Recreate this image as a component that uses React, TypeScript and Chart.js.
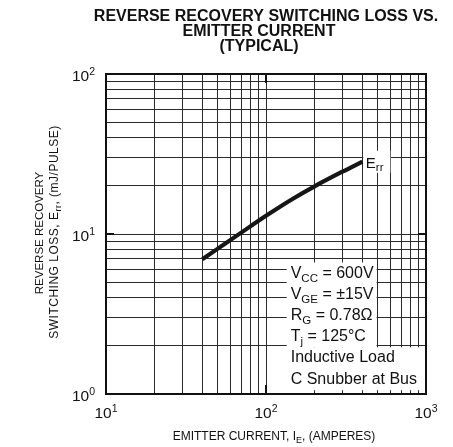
import { useEffect, useRef } from "react";
import { Chart, registerables } from "chart.js";

Chart.register(...registerables);

const FONT = '"Liberation Sans", Arial, Helvetica, sans-serif';

// ---- data ----
const TITLE_LINES = ["REVERSE RECOVERY SWITCHING LOSS VS.", "EMITTER CURRENT", "(TYPICAL)"];
const CURRENT_A = [40, 50, 70, 100, 150, 200, 300, 400];
const ERR_MJ = [6.95, 8.1, 10.2, 13.0, 16.8, 19.8, 24.5, 28.3];
const X_DECADES = [10, 100, 1000];
const Y_DECADES = [1, 10, 100];
const X_EXPONENTS = ["1", "2", "3"];
const Y_EXPONENTS = ["0", "1", "2"];
const MULTIPLIERS = [1, 2, 3, 4, 5, 6, 7, 8, 9];
const SERIES_NAME = [{ t: "E" }, { t: "rr", s: "sub" }];
const Y_TITLE_1 = [{ t: "REVERSE RECOVERY" }];
const Y_TITLE_2 = [{ t: "SWITCHING LOSS, E" }, { t: "rr", s: "sub" }, { t: ", (mJ/PULSE)" }];
const X_TITLE = [{ t: "EMITTER CURRENT, I" }, { t: "E", s: "sub" }, { t: ", (AMPERES)" }];
const NOTE_GROUP_A = [
  [{ t: "V" }, { t: "CC", s: "sub" }, { t: " = 600V" }],
  [{ t: "V" }, { t: "GE", s: "sub" }, { t: " = ±15V" }],
  [{ t: "R" }, { t: "G", s: "sub" }, { t: " = 0.78Ω" }],
  [{ t: "T" }, { t: "j", s: "sub" }, { t: " = 125°C" }],
];
const NOTE_GROUP_B = [[{ t: "Inductive Load" }], [{ t: "C Snubber at Bus" }]];

type Part = { t: string; s?: string };

function gridValues(decades: number[]) {
  const out: number[] = [];
  for (let i = 0; i < decades.length - 1; i++) {
    for (const m of MULTIPLIERS) out.push(decades[i] * m);
  }
  out.push(decades[decades.length - 1]);
  return out;
}

function setFont(ctx: CanvasRenderingContext2D, size: number, bold = false) {
  ctx.font = `${bold ? "bold " : ""}${size}px ${FONT}`;
}

function partsWidth(ctx: CanvasRenderingContext2D, parts: Part[], size: number, small: number) {
  let w = 0;
  for (const p of parts) {
    setFont(ctx, p.s ? small : size);
    w += ctx.measureText(p.t).width;
  }
  return w;
}

function drawParts(
  ctx: CanvasRenderingContext2D,
  parts: Part[],
  x: number,
  y: number,
  size: number,
  small: number,
  subDy: number,
  supDy: number,
  align: "left" | "center" | "right" = "left"
) {
  const w = partsWidth(ctx, parts, size, small);
  let cx = align === "left" ? x : align === "center" ? x - w / 2 : x - w;
  ctx.textAlign = "left";
  for (const p of parts) {
    setFont(ctx, p.s ? small : size);
    const dy = p.s === "sub" ? subDy : p.s === "sup" ? -supDy : 0;
    ctx.fillText(p.t, cx, y + dy);
    cx += ctx.measureText(p.t).width;
  }
  return w;
}

const NOTE_SIZE = 16;
const NOTE_SMALL = 11.5;
const NOTE_STEP = 21.2;

function noteGeometry(chart: any) {
  const a = chart.chartArea;
  const left = a.left + 184.7;
  const base0 = a.top + 203.5;
  return { left, base0 };
}

const decorPlugin = {
  id: "decor",
  beforeDatasetsDraw(chart: any) {
    const { ctx } = chart;
    const xs = chart.scales.x;
    const ys = chart.scales.y;
    ctx.save();
    ctx.fillStyle = "#fff";
    const { left, base0 } = noteGeometry(chart);
    const wA = Math.max(...NOTE_GROUP_A.map((r) => partsWidth(ctx, r, NOTE_SIZE, NOTE_SMALL)));
    const wB = Math.max(...NOTE_GROUP_B.map((r) => partsWidth(ctx, r, NOTE_SIZE, NOTE_SMALL)));
    const topA = base0 - 15;
    ctx.fillRect(left - 4, topA, wA + 7, NOTE_STEP * NOTE_GROUP_A.length);
    const topB = topA + NOTE_STEP * NOTE_GROUP_A.length;
    ctx.fillRect(left - 4, topB, wB + 8, NOTE_STEP * NOTE_GROUP_B.length + 0.5);
    const n = CURRENT_A.length - 1;
    const px = xs.getPixelForValue(CURRENT_A[n]);
    const py = ys.getPixelForValue(ERR_MJ[n]);
    ctx.fillRect(px + 1, py - 11, 27, 22);
    ctx.restore();
  },
  afterDatasetsDraw(chart: any) {
    const { ctx, chartArea: a } = chart;
    const xs = chart.scales.x;
    const ys = chart.scales.y;
    ctx.save();
    ctx.fillStyle = "#111";
    ctx.textBaseline = "alphabetic";

    const { left, base0 } = noteGeometry(chart);
    [...NOTE_GROUP_A, ...NOTE_GROUP_B].forEach((row, i) => {
      drawParts(ctx, row, left, base0 + i * NOTE_STEP, NOTE_SIZE, NOTE_SMALL, 4, 0);
    });

    const n = CURRENT_A.length - 1;
    const px = xs.getPixelForValue(CURRENT_A[n]);
    const py = ys.getPixelForValue(ERR_MJ[n]);
    drawParts(ctx, SERIES_NAME, px + 3.5, py + 6, 15, 11.5, 3.5, 0);

    ctx.strokeStyle = "#111";
    ctx.lineWidth = 2;
    ctx.strokeRect(a.left, a.top, a.right - a.left, a.bottom - a.top);

    ctx.lineWidth = 2;
    ctx.beginPath();
    X_DECADES.slice(1, -1).forEach((v) => {
      const x = Math.round(xs.getPixelForValue(v));
      ctx.moveTo(x, a.top);
      ctx.lineTo(x, a.top + 9);
      ctx.moveTo(x, a.bottom);
      ctx.lineTo(x, a.bottom - 9);
    });
    Y_DECADES.slice(1, -1).forEach((v) => {
      const y = Math.round(ys.getPixelForValue(v));
      ctx.moveTo(a.left, y);
      ctx.lineTo(a.left + 8, y);
      ctx.moveTo(a.right, y);
      ctx.lineTo(a.right - 8, y);
    });
    ctx.stroke();

    X_DECADES.forEach((v, i) => {
      const x = xs.getPixelForValue(v);
      drawParts(ctx, [{ t: "10" }, { t: X_EXPONENTS[i], s: "sup" }], x, a.bottom + 24, 15.5, 10.5, 0, 6, "center");
    });
    Y_DECADES.forEach((v, i) => {
      const y = ys.getPixelForValue(v);
      drawParts(ctx, [{ t: "10" }, { t: Y_EXPONENTS[i], s: "sup" }], a.left - 11, y + 7, 15.5, 10.5, 0, 6, "right");
    });

    drawParts(ctx, X_TITLE, (a.left + a.right) / 2 + 8, a.bottom + 46, 12, 9, 3, 0, "center");

    const cy = (a.top + a.bottom) / 2 - 1;
    ctx.save();
    ctx.translate(a.left - 63, cy);
    ctx.rotate(-Math.PI / 2);
    drawParts(ctx, Y_TITLE_1, 0, 0, 11.5, 9, 3, 0, "center");
    ctx.restore();
    ctx.save();
    ctx.translate(a.left - 48, cy - 1);
    ctx.rotate(-Math.PI / 2);
    (ctx as any).letterSpacing = "0.5px";
    drawParts(ctx, Y_TITLE_2, 0, 0, 12, 9, 3, 0, "center");
    (ctx as any).letterSpacing = "0px";
    ctx.restore();

    const titleCenters = [266, 259, 259];
    const titleBase = [21, 36.3, 51];
    TITLE_LINES.forEach((line, i) => {
      setFont(ctx, 16, true);
      ctx.textAlign = "center";
      ctx.fillText(line, titleCenters[i], titleBase[i]);
    });

    ctx.restore();
  },
};

export default function App() {
  const ref = useRef<HTMLCanvasElement | null>(null);

  useEffect(() => {
    document.body.style.margin = "0";
    const canvas = ref.current;
    if (!canvas) return;
    const chart = new Chart(canvas, {
      type: "line",
      data: {
        datasets: [
          {
            label: "Err",
            data: CURRENT_A.map((x, i) => ({ x, y: ERR_MJ[i] })),
            borderColor: "#161616",
            borderWidth: 4.2,
            pointRadius: 0,
            cubicInterpolationMode: "monotone",
            fill: false,
          },
        ],
      },
      options: {
        responsive: false,
        animation: false,
        devicePixelRatio: 1,
        layout: { padding: { left: 106, right: 27, top: 74, bottom: 53 } },
        plugins: {
          legend: { display: false },
          tooltip: { enabled: false },
          title: { display: false },
        },
        scales: {
          x: {
            type: "logarithmic",
            min: X_DECADES[0],
            max: X_DECADES[X_DECADES.length - 1],
            afterBuildTicks: (s: any) => {
              s.ticks = gridValues(X_DECADES).map((value) => ({ value }));
            },
            ticks: { display: false },
            grid: { color: "#2a2a2a", lineWidth: 1, drawTicks: false },
            border: { display: false },
          },
          y: {
            type: "logarithmic",
            min: Y_DECADES[0],
            max: Y_DECADES[Y_DECADES.length - 1],
            afterBuildTicks: (s: any) => {
              s.ticks = gridValues(Y_DECADES).map((value) => ({ value }));
            },
            ticks: { display: false },
            grid: { color: "#2a2a2a", lineWidth: 1, drawTicks: false },
            border: { display: false },
          },
        },
      },
      plugins: [decorPlugin],
    } as any);
    return () => chart.destroy();
  }, []);

  return (
    <div style={{ width: 453, height: 447, background: "#fff" }}>
      <canvas ref={ref} width={453} height={447} style={{ display: "block" }} />
    </div>
  );
}
